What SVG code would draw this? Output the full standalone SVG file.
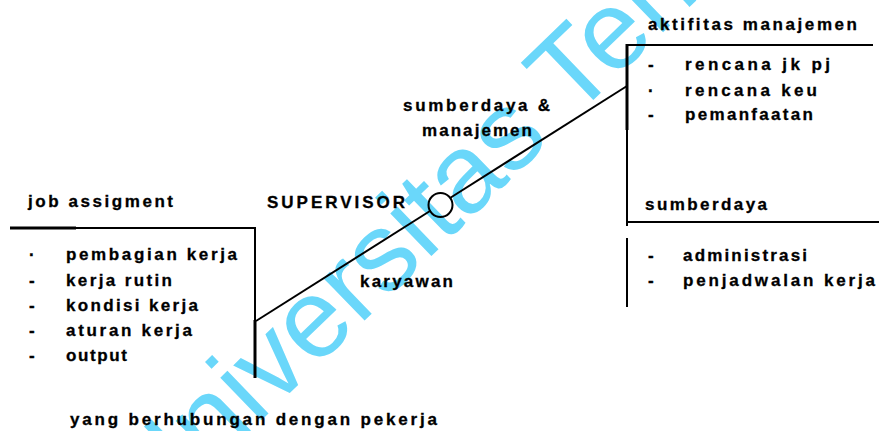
<svg xmlns="http://www.w3.org/2000/svg" width="879" height="431" viewBox="0 0 879 431">
  <style>
    .t { font-family: "Liberation Sans", Arial, sans-serif; font-weight: bold; font-size: 17px; fill: #000; stroke: #000; stroke-width: 0.3; }
    .ln { stroke: #000; stroke-width: 2; fill: none; }
    .thick { stroke: #000; stroke-width: 3; fill: none; }
    .wm { font-family: "Liberation Sans", Arial, sans-serif; font-size: 112px; fill: #6ad7fa; }
  </style>

  <rect width="879" height="431" fill="#fff"/>

  <!-- watermark -->
  <text class="wm" transform="translate(153 525) rotate(-44)">Universitas Terbuka</text>

  <!-- connectors -->
  <g id="connectors">
    <line class="ln" x1="256" y1="321" x2="430" y2="211"/>
    <line class="ln" x1="450" y1="198" x2="627" y2="86"/>
  </g>

  <!-- left block: job assignment -->
  <g id="job-assignment">
    <line class="thick" x1="10" y1="228" x2="76" y2="228"/>
    <line class="ln" x1="76" y1="228" x2="256" y2="228"/>
    <line class="ln" x1="255" y1="228" x2="255" y2="320"/>
    <line class="thick" x1="255" y1="320" x2="255" y2="378"/>
    <text class="t" x="28" y="207" textLength="145" lengthAdjust="spacing">job assigment</text>
    <text class="t" x="29" y="260">·</text>
    <text class="t" x="29" y="286">-</text>
    <text class="t" x="29" y="311">-</text>
    <text class="t" x="29" y="336">-</text>
    <text class="t" x="29" y="361">-</text>
    <text class="t" x="66" y="260" textLength="171" lengthAdjust="spacing">pembagian kerja</text>
    <text class="t" x="66" y="286" textLength="106" lengthAdjust="spacing">kerja rutin</text>
    <text class="t" x="66" y="311" textLength="132" lengthAdjust="spacing">kondisi kerja</text>
    <text class="t" x="66" y="336" textLength="126" lengthAdjust="spacing">aturan kerja</text>
    <text class="t" x="66" y="361" textLength="61" lengthAdjust="spacing">output</text>
    <text class="t" x="70" y="425" textLength="367" lengthAdjust="spacing">yang berhubungan dengan pekerja</text>
  </g>

  <!-- junction: supervisor -->
  <g id="supervisor">
    <circle class="ln" cx="440.5" cy="205" r="12" fill="#fff"/>
    <text class="t" x="267" y="208" textLength="138" lengthAdjust="spacing">SUPERVISOR</text>
  </g>

  <!-- connector labels -->
  <g id="labels">
    <text class="t" x="403" y="111" textLength="147" lengthAdjust="spacing">sumberdaya &amp;</text>
    <text class="t" x="422" y="136" textLength="110" lengthAdjust="spacing">manajemen</text>
    <text class="t" x="360" y="287" textLength="93" lengthAdjust="spacing">karyawan</text>
  </g>

  <!-- right block: management activities and resources -->
  <g id="management">
    <line class="ln" x1="627" y1="45" x2="873" y2="45"/>
    <line class="thick" x1="627" y1="44" x2="627" y2="130"/>
    <line class="ln" x1="627" y1="130" x2="627" y2="226"/>
    <line class="ln" x1="627" y1="238" x2="627" y2="307"/>
    <line class="ln" x1="627" y1="222" x2="879" y2="222"/>
    <text class="t" x="648" y="30" textLength="209" lengthAdjust="spacing">aktifitas manajemen</text>
    <text class="t" x="648" y="70">-</text>
    <text class="t" x="648" y="96">·</text>
    <text class="t" x="648" y="120">-</text>
    <text class="t" x="685" y="70" textLength="145" lengthAdjust="spacing">rencana jk pj</text>
    <text class="t" x="685" y="96" textLength="132" lengthAdjust="spacing">rencana keu</text>
    <text class="t" x="685" y="120" textLength="128" lengthAdjust="spacing">pemanfaatan</text>
    <text class="t" x="645" y="210" textLength="122" lengthAdjust="spacing">sumberdaya</text>
    <text class="t" x="648" y="261">-</text>
    <text class="t" x="648" y="286">-</text>
    <text class="t" x="683" y="261" textLength="124" lengthAdjust="spacing">administrasi</text>
    <text class="t" x="683" y="286" textLength="192" lengthAdjust="spacing">penjadwalan kerja</text>
  </g>
</svg>
